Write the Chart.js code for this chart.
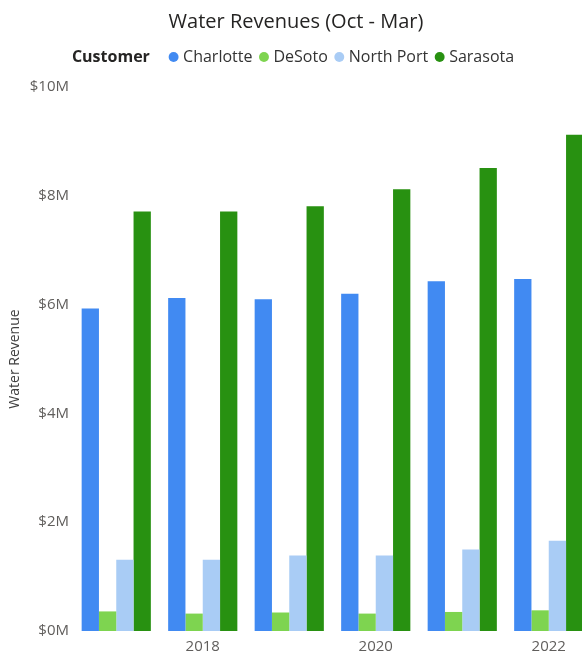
<!DOCTYPE html>
<html>
<head>
<meta charset="utf-8">
<script src="https://cdn.jsdelivr.net/npm/chart.js@4/dist/chart.umd.min.js"></script>
<style>
  html, body { margin: 0; padding: 0; background: #fff; overflow: hidden; }
</style>
</head>
<body>
<canvas id="revenueChart" width="592" height="654"></canvas>
<script>
// fiscal years on the x axis (only every other one gets a label)
var years = ['2017', '2018', '2019', '2020', '2021', '2022'];
var shownYears = ['2018', '2020', '2022'];

// water revenue per customer, dollars
var charlotte = [5930000, 6120000, 6100000, 6200000, 6430000, 6470000];
var desoto = [360000, 320000, 340000, 320000, 350000, 380000];
var northPort = [1310000, 1310000, 1390000, 1390000, 1500000, 1660000];
var sarasota = [7710000, 7710000, 7810000, 8120000, 8510000, 9120000];

var yTicks = [0, 2000000, 4000000, 6000000, 8000000, 10000000];
var legendTitle = 'Customer';

var font = '"Open Sans", "Noto Sans", sans-serif';

// draws the bold "Customer" caption in front of the legend items
var customerLabel = {
  id: 'customerLabel',
  beforeInit: function(chart) {
    var fit = chart.legend.fit;
    chart.legend.fit = function() {
      fit.bind(chart.legend)();
      this.height = 48; // leaves room down to the plot top
    };
  },
  afterDraw: function(chart) {
    var box = chart.legend.legendHitBoxes[0];
    if (!box) return;
    var ctx = chart.ctx;
    ctx.save();
    ctx.font = 'bold 16px ' + font;
    ctx.fillStyle = '#252423';
    ctx.textBaseline = 'middle';
    ctx.fillText(legendTitle, box.left - 6, box.top + box.height / 2);
    ctx.restore();
  }
};

var ctx = document.getElementById('revenueChart').getContext('2d');

new Chart(ctx, {
  type: 'bar',
  data: {
    labels: years,
    datasets: [
      { label: 'Charlotte', data: charlotte, backgroundColor: '#418AF2' },
      { label: 'DeSoto', data: desoto, backgroundColor: '#7ED450' },
      { label: 'North Port', data: northPort, backgroundColor: '#A9CCF5' },
      { label: 'Sarasota', data: sarasota, backgroundColor: '#289111' }
    ]
  },
  options: {
    responsive: false,
    animation: false,
    datasets: {
      bar: { categoryPercentage: 0.8, barPercentage: 1.0, borderWidth: 0 }
    },
    layout: { padding: 0 },
    plugins: {
      title: {
        display: true,
        text: 'Water Revenues (Oct - Mar)',
        color: '#252423',
        font: { family: font, size: 20, weight: 'normal' },
        padding: { top: 10, bottom: 5 }
      },
      legend: {
        display: true,
        position: 'top',
        onClick: null,
        labels: {
          usePointStyle: true,
          pointStyle: 'circle',
          boxWidth: 3,
          boxHeight: 7,
          padding: 10,
          color: '#333333',
          font: { family: font, size: 16 },
          generateLabels: function(chart) {
            var items = Chart.defaults.plugins.legend.labels.generateLabels(chart);
            items.forEach(function(it) {
              it.strokeStyle = 'rgba(0,0,0,0)';
              it.lineWidth = 0;
            });
            items.unshift({
              text: legendTitle,
              fillStyle: 'rgba(0,0,0,0)',
              strokeStyle: 'rgba(0,0,0,0)',
              fontColor: 'rgba(0,0,0,0)',
              lineWidth: 0,
              pointStyle: 'circle',
              hidden: false,
              datasetIndex: -1
            });
            return items;
          }
        }
      },
      tooltip: { enabled: false }
    },
    scales: {
      x: {
        grid: { display: false, drawTicks: false },
        border: { display: false },
        ticks: {
          autoSkip: false,
          maxRotation: 0,
          padding: 7,
          color: '#605E5C',
          font: { family: font, size: 15 },
          callback: function(value, index) {
            var y = years[index];
            return shownYears.indexOf(y) >= 0 ? y : '';
          }
        },
        afterFit: function(scale) { scale.height = 23; }
      },
      y: {
        min: 0,
        max: 10000000,
        grid: { display: false, drawTicks: false },
        border: { display: false },
        afterBuildTicks: function(scale) {
          scale.ticks = yTicks.map(function(v) { return { value: v }; });
        },
        ticks: {
          padding: 4,
          color: '#605E5C',
          font: { family: font, size: 15 },
          callback: function(value) { return '$' + (value / 1000000) + 'M'; }
        },
        title: {
          display: true,
          text: 'Water Revenue',
          color: '#404040',
          font: { family: font, size: 14 },
          padding: { top: 7, bottom: 0 }
        },
        afterFit: function(scale) { scale.width = 73; }
      }
    }
  },
  plugins: [customerLabel]
});
</script>
</body>
</html>
